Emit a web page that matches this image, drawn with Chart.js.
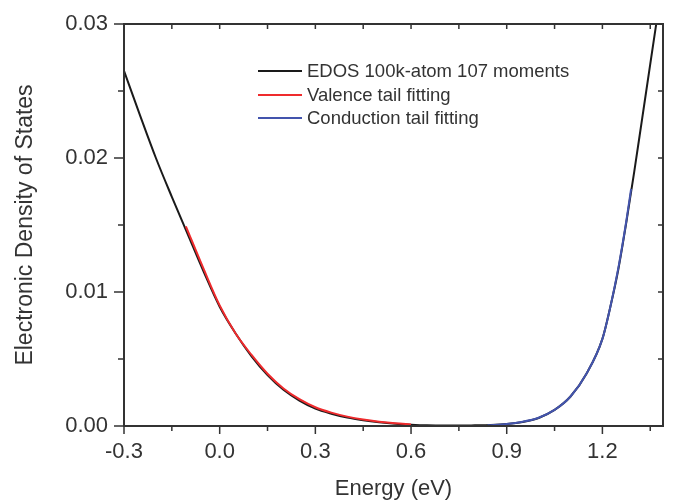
<!DOCTYPE html>
<html>
<head>
<meta charset="utf-8">
<script src="https://cdn.jsdelivr.net/npm/chart.js@4.4.1/dist/chart.umd.min.js"></script>
<style>
  body { margin: 0; background: #fff; }
  #wrap { width: 673px; height: 503px; position: relative; }
</style>
</head>
<body>
<div id="wrap"><canvas id="myChart"></canvas></div>
<script>
// EDOS curve (black)
const edosX = [-0.30, -0.25, -0.20, -0.15, -0.10, -0.05, 0.00, 0.05, 0.10, 0.15, 0.20, 0.25, 0.30, 0.35, 0.40, 0.45, 0.50, 0.55, 0.60, 0.65, 0.70, 0.75, 0.80, 0.85, 0.90, 0.95, 1.00, 1.05, 1.10, 1.15, 1.20, 1.225, 1.25, 1.275, 1.30, 1.325, 1.35, 1.37, 1.40];
const edosY = [0.0265, 0.0232, 0.0200, 0.0171, 0.0143, 0.0115, 0.0089, 0.0069, 0.0052, 0.0038, 0.0027, 0.0019, 0.0013, 0.00092, 0.00063, 0.00043, 0.00028, 0.00017, 0.0001, 0.00005, 0.00003, 0.00003, 0.00005, 0.00008, 0.00015, 0.0003, 0.0006, 0.0012, 0.0022, 0.0039, 0.0065, 0.0089, 0.0117, 0.0152, 0.0190, 0.0230, 0.0270, 0.0302, 0.0350];

// valence tail fit (red)
const valX = [-0.106, -0.05, 0.00, 0.05, 0.10, 0.15, 0.20, 0.25, 0.30, 0.35, 0.40, 0.45, 0.50, 0.55, 0.60];
const valY = [0.0149, 0.0117, 0.0090, 0.0069, 0.0053, 0.0039, 0.0028, 0.0020, 0.0014, 0.0010, 0.0007, 0.00048, 0.00032, 0.0002, 0.00012];

// conduction tail fit (blue)
const condX = [0.84, 0.90, 0.95, 1.00, 1.05, 1.10, 1.15, 1.20, 1.225, 1.25, 1.275, 1.29];
const condY = [0.00005, 0.00015, 0.00032, 0.00062, 0.0012, 0.0022, 0.0039, 0.0065, 0.0089, 0.0118, 0.0153, 0.0177];

const labels = ["EDOS 100k-atom 107 moments", "Valence tail fitting", "Conduction tail fitting"];
const colors = ["#1a1a1a", "#ef2b2d", "#4354ad"];

const toPts = (xs, ys) => xs.map((x, i) => ({ x: x, y: ys[i] }));

const isMult = (v, step) => Math.abs(Math.round(v / step) * step - v) < 1e-6;

const FONT = "'Liberation Sans', Arial, sans-serif";
const INK = "#333";

const frameTicks = {
    id: "frameTicks",
    afterDatasetsDraw(chart) {
        const ctx = chart.ctx;
        const a = chart.chartArea;
        const xs = chart.scales.x;
        const ys = chart.scales.y;
        ctx.save();
        ctx.strokeStyle = INK;
        ctx.lineWidth = 2;
        ctx.strokeRect(a.left, a.top, a.right - a.left, a.bottom - a.top);
        ctx.lineWidth = 1.5;
        ctx.beginPath();
        xs.ticks.forEach(t => {
            const p = xs.getPixelForValue(t.value);
            const major = isMult(t.value, 0.3);
            ctx.moveTo(p, a.bottom);
            ctx.lineTo(p, a.bottom + (major ? 8 : 5));
            ctx.moveTo(p, a.top);
            ctx.lineTo(p, a.top + 5);
        });
        ys.ticks.forEach(t => {
            const p = ys.getPixelForValue(t.value);
            const major = isMult(t.value, 0.01);
            ctx.moveTo(a.left, p);
            ctx.lineTo(a.left - (major ? 10 : 6), p);
            ctx.moveTo(a.right, p);
            ctx.lineTo(a.right - 5, p);
        });
        ctx.stroke();

        // legend
        const rows = [71, 95, 118];
        ctx.font = "18.5px " + FONT;
        ctx.textBaseline = "middle";
        ctx.fillStyle = INK;
        rows.forEach((y, i) => {
            ctx.strokeStyle = colors[i];
            ctx.lineWidth = 2;
            ctx.beginPath();
            ctx.moveTo(258, y);
            ctx.lineTo(302, y);
            ctx.stroke();
            ctx.fillText(labels[i], 307, y + 1);
        });
        ctx.restore();
    }
};

const ctx = document.getElementById("myChart");
new Chart(ctx, {
    type: "scatter",
    data: {
        datasets: [
            { label: labels[0], data: toPts(edosX, edosY), borderColor: colors[0], order: 3 },
            { label: labels[1], data: toPts(valX, valY), borderColor: colors[1], order: 1 },
            { label: labels[2], data: toPts(condX, condY), borderColor: colors[2], order: 2 }
        ].map(d => Object.assign(d, {
            showLine: true,
            borderWidth: 2,
            pointRadius: 0,
            cubicInterpolationMode: "monotone",
            fill: false
        }))
    },
    options: {
        responsive: true,
        maintainAspectRatio: false,
        animation: false,
        layout: { padding: { left: 0, right: 10, top: 24, bottom: 0 } },
        plugins: { legend: { display: false }, tooltip: { enabled: false } },
        scales: {
            x: {
                type: "linear",
                min: -0.3,
                max: 1.39,
                grid: { display: false, drawTicks: false },
                border: { display: false },
                ticks: {
                    stepSize: 0.15,
                    includeBounds: false,
                    autoSkip: false,
                    maxRotation: 0,
                    padding: 13,
                    color: INK,
                    font: { family: FONT, size: 22 },
                    callback: v => isMult(v, 0.3) ? v.toFixed(1) : ""
                },
                title: {
                    display: true,
                    text: "Energy (eV)",
                    color: INK,
                    font: { family: FONT, size: 22 },
                    padding: { top: 0, bottom: 1 }
                },
                afterFit: s => { s.height = 77; s.paddingLeft = 0; s.paddingRight = 0; }
            },
            y: {
                type: "linear",
                min: 0,
                max: 0.03,
                grid: { display: false, drawTicks: false },
                border: { display: false },
                ticks: {
                    stepSize: 0.005,
                    includeBounds: false,
                    autoSkip: false,
                    padding: 16,
                    color: INK,
                    font: { family: FONT, size: 22 },
                    callback: v => isMult(v, 0.01) ? v.toFixed(2) : ""
                },
                title: {
                    display: true,
                    text: "Electronic Density of States",
                    color: INK,
                    font: { family: FONT, size: 23 },
                    padding: { top: 12, bottom: 0 }
                },
                afterFit: s => { s.width = 124; s.paddingTop = 0; s.paddingBottom = 0; }
            }
        }
    },
    plugins: [frameTicks]
});
</script>
</body>
</html>
